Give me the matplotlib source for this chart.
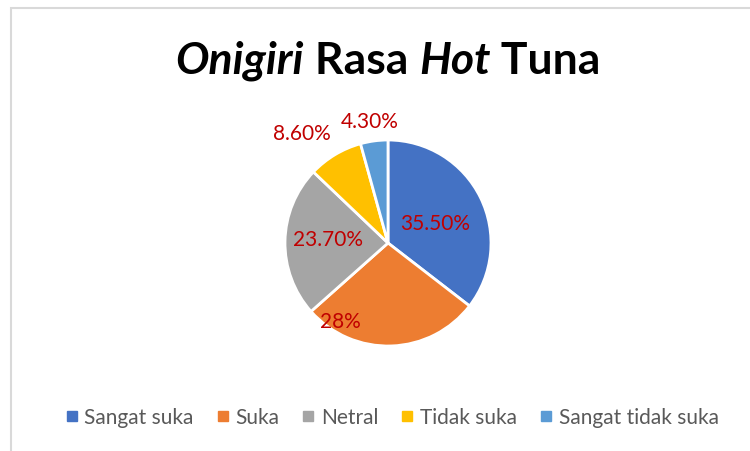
import matplotlib
matplotlib.use("Agg")
import matplotlib.pyplot as plt
import numpy as np
from matplotlib.lines import Line2D

categories = ["Sangat suka", "Suka", "Netral", "Tidak suka", "Sangat tidak suka"]
values = [35.5, 28.0, 23.7, 8.6, 4.3]
pct_labels = ["35.50%", "28%", "23.70%", "8.60%", "4.30%"]
colors = ["#4472C4", "#ED7D31", "#A5A5A5", "#FFC000", "#5B9BD5"]

# label placement style: (radius fraction, angle offset in degrees)
label_r = [0.50, 0.89, 0.58, 1.36, 1.20]
label_da = [-3.5, -33.4, -2.5, 7.2, 0.6]

plt.rcParams['font.family'] = ['Lato', 'DejaVu Sans']

fig = plt.figure(figsize=(7.5, 4.52), dpi=100)
fig.patches.append(plt.Rectangle((10.5/750, -0.01), 1.2, 1 - 8.5/452 + 0.01,
                                 transform=fig.transFigure, fill=False,
                                 edgecolor="#D9D9D9", linewidth=1.5))

# pie axes: center (388,244) px, radius ~103 px
cx, cy, R = 388, 244, 103
ax = fig.add_axes([(cx - R) / 750, (452 - cy - R) / 452, 2 * R / 750, 2 * R / 452])
wedges, _ = ax.pie(values, colors=colors, startangle=90, counterclock=False,
                   wedgeprops=dict(edgecolor="white", linewidth=2))
ax.set_xlim(-1, 1)
ax.set_ylim(-1, 1)
ax.set_aspect('auto')

for w, lab, rf, da in zip(wedges, pct_labels, label_r, label_da):
    mid = np.deg2rad((w.theta1 + w.theta2) / 2 + da)
    ax.text(rf * np.cos(mid), rf * np.sin(mid), lab, ha="center", va="center",
            fontsize=15, color="#C00000", clip_on=False)

# title with mixed italic pieces
pieces = [("Onigiri", "italic"), (" Rasa ", "normal"), ("Hot", "italic"), (" Tuna", "normal")]
fig.canvas.draw()
renderer = fig.canvas.get_renderer()
texts = []
x = 0
for s, st in pieces:
    t = fig.text(x, 1 - 61 / 452, s, fontsize=32, fontweight="bold", style=st,
                 ha="left", va="center", color="black")
    bb = t.get_window_extent(renderer)
    x += bb.width / 750
    texts.append(t)
total = x
start = (388 / 750) - total / 2
x = start
for t in texts:
    bb = t.get_window_extent(renderer)
    t.set_x(x)
    x += bb.width / 750

handles = [Line2D([], [], marker="s", linestyle="none", markersize=7,
                  markerfacecolor=c, markeredgecolor=c) for c in colors]
leg = fig.legend(handles, categories, loc="center", bbox_to_anchor=(392 / 750, 1 - 418 / 452),
                 ncol=5, frameon=False, fontsize=15, handlelength=0.6, handletextpad=0.3,
                 columnspacing=1.1, labelcolor="#595959")

fig.savefig("out.png", dpi=100)
